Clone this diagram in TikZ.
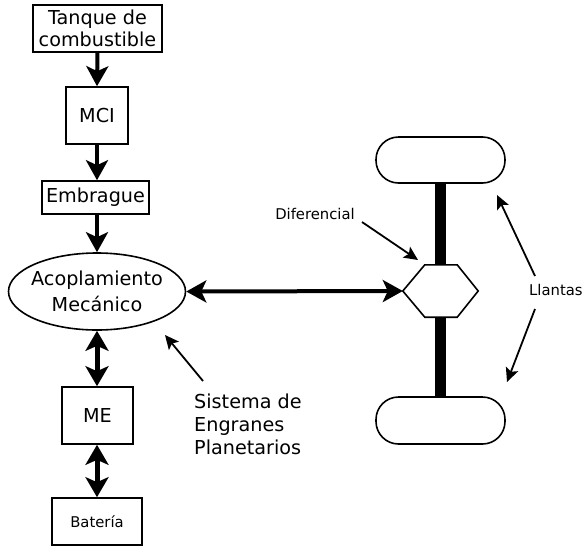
\documentclass[tikz,border=0pt]{standalone}
\usepackage{fontspec}
\setmainfont{DejaVu Sans}
\usetikzlibrary{arrows.meta,shapes.geometric,calc}
\begin{document}
\begin{tikzpicture}[x=1pt,y=-1pt,
  box/.style={draw,line width=1.6pt,inner sep=0pt,align=center,font=\fontsize{19.2}{22}\selectfont},
  smallbox/.style={box,font=\fontsize{14.8}{16}\selectfont},
  wheel/.style={draw,line width=1.6pt,rounded corners=22.5pt,minimum width=129pt,minimum height=46pt,inner sep=0pt},
  flow/.style={line width=4pt,-{Stealth[length=20pt,width=22pt,inset=5pt]}},
  both/.style={line width=5pt,{Stealth[length=20pt,width=23pt,inset=5pt]}-{Stealth[length=20pt,width=23pt,inset=5pt]}},
  hboth/.style={line width=4pt,{Stealth[length=20pt,width=22pt,inset=5pt]}-{Stealth[length=20pt,width=22pt,inset=5pt]}},
  note/.style={line width=1.8pt,-{Stealth[length=14pt,width=13pt,inset=3pt]}},
  lbl/.style={inner sep=0pt,font=\fontsize{14.8}{16}\selectfont},
  biglbl/.style={inner sep=0pt,align=left,font=\fontsize{19.2}{23}\selectfont}]
\useasboundingbox (0,0) rectangle (583,549);
\node[box,minimum width=129pt,minimum height=47pt] (tanque) at (97.5,28.5) {Tanque de\\combustible};
\node[box,minimum width=62pt,minimum height=57pt] (mci) at (97,115.5) {MCI};
\node[box,minimum width=107pt,minimum height=33pt] (emb) at (95.5,197.5) {Embrague};
\node[box,ellipse,inner xsep=-6pt,inner ysep=-6pt,minimum width=177pt,minimum height=77pt,font=\fontsize{19.2}{26}\selectfont] (acop) at (97,291.5) {Acoplamiento\\Mecánico};
\node[box,minimum width=71pt,minimum height=57pt] (me) at (97.5,415.5) {ME};
\node[smallbox,minimum width=90pt,minimum height=47pt] (bat) at (97,521.5) {Batería};

\draw[flow] (tanque.south) -- (mci.north);
\draw[flow] (mci.south) -- (mci.south |- emb.north);
\draw[flow] (mci.south |- emb.south) -- (mci.south |- acop.north);
\draw[both] (acop.south) -- (acop.south |- me.north);
\draw[both] (acop.south |- me.south) -- (acop.south |- bat.north);

% wheels and axle
\node[wheel] (wtop) at (440.5,160) {};
\node[wheel,minimum height=47pt] (wbot) at (440.5,420.5) {};
\node[minimum width=75pt,minimum height=52pt,inner sep=0pt] (dif) at (440.5,291) {};
\draw[line width=11pt] (wtop.south) -- (dif.north);
\draw[line width=11pt] (dif.south) -- (wbot.north);
\draw[line width=1.6pt,fill=white,line join=miter] (dif.west) -- ($(dif.north west)+(22,0)$) -- ($(dif.north east)+(-21,0)$) -- (dif.east) -- ($(dif.south east)+(-21,0)$) -- ($(dif.south west)+(22,0)$) -- cycle;

\draw[hboth] (acop.east) -- (dif.west);

% labels
\node[biglbl,anchor=north west] (sis) at (194,394) {Sistema de\\Engranes\\Planetarios};
\coordinate (sisA) at (203,381);
\coordinate (sisB) at (165,335);
\draw[note] (sisA) -- (sisB);

\node[lbl] (diftxt) at (315,214) {Diferencial};
\coordinate (difA) at (362,222);
\coordinate (difB) at (418,260);
\draw[note] (difA) -- (difB);

\node[lbl,anchor=west] (ll) at (529,290) {Llantas};
\coordinate (llA) at (535,276);
\coordinate (llB) at (497,195);
\coordinate (llC) at (535,309);
\coordinate (llD) at (507,382);
\draw[note] (llA) -- (llB);
\draw[note] (llC) -- (llD);
\end{tikzpicture}
\end{document}
